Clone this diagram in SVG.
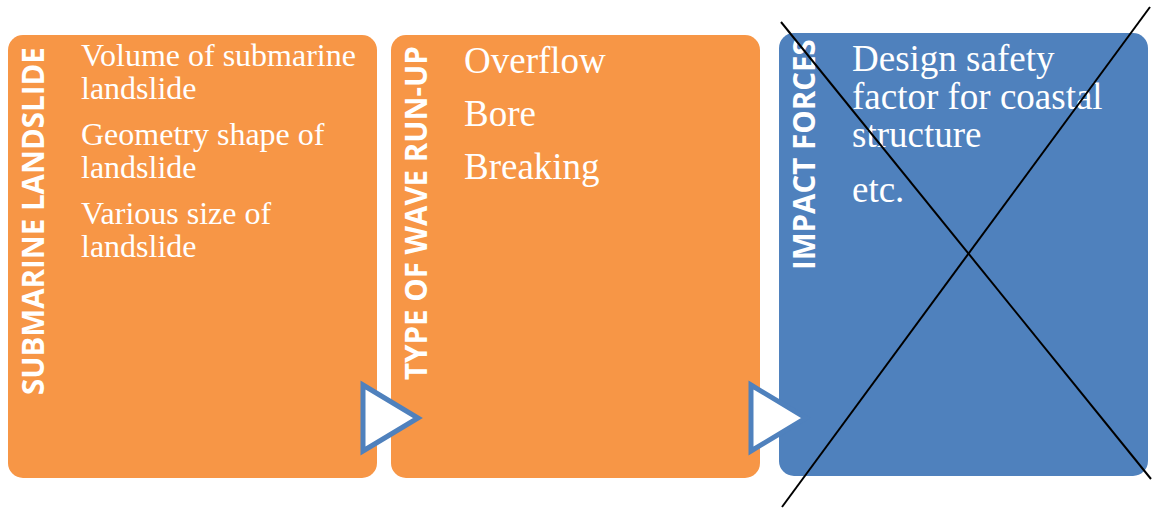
<svg xmlns="http://www.w3.org/2000/svg" width="1155" height="508" viewBox="0 0 1155 508">
  <style>
    .box-orange { fill: #F79646; }
    .box-blue { fill: #4F81BD; }
    .title { font-family: "Open Sans", "DejaVu Sans", sans-serif; font-weight: 700; font-size: 29.5px; fill: #FFFFFF; }
    .body { font-family: "Liberation Serif", "Times New Roman", serif; fill: #FFFFFF; }
    .s32 { font-size: 32px; }
    .s37 { font-size: 37px; }
    .chevron { fill: #FFFFFF; stroke: #4F81BD; stroke-width: 5; stroke-linejoin: miter; }
    .cross { stroke: #000000; stroke-width: 2; fill: none; }
  </style>

  <rect width="1155" height="508" fill="#FFFFFF"/>

  <g id="node-submarine-landslide">
    <rect class="box-orange" x="8" y="35" width="369" height="443" rx="15" ry="15"/>
    <text class="title" transform="translate(44,395) rotate(-90)">SUBMARINE LANDSLIDE</text>
    <text class="body s32" x="81" y="66">Volume of submarine</text>
    <text class="body s32" x="81" y="99">landslide</text>
    <text class="body s32" x="81" y="145">Geometry shape of</text>
    <text class="body s32" x="81" y="178">landslide</text>
    <text class="body s32" x="81" y="224">Various size of</text>
    <text class="body s32" x="81" y="257">landslide</text>
  </g>

  <g id="node-wave-run-up">
    <rect class="box-orange" x="391" y="35" width="369" height="443" rx="15" ry="15"/>
    <text class="title" transform="translate(427,380) rotate(-90)">TYPE OF WAVE RUN-UP</text>
    <text class="body s37" x="464" y="73">Overflow</text>
    <text class="body s37" x="464" y="126">Bore</text>
    <text class="body s37" x="464" y="179">Breaking</text>
  </g>

  <g id="node-impact-forces">
    <rect class="box-blue" x="779" y="33" width="369" height="443" rx="15" ry="15"/>
    <text class="title" transform="translate(815,270) rotate(-90)">IMPACT FORCES</text>
    <text class="body s37" x="852" y="71">Design safety</text>
    <text class="body s37" x="852" y="109">factor for coastal</text>
    <text class="body s37" x="852" y="147">structure</text>
    <text class="body s37" x="852" y="202">etc.</text>
  </g>

  <g id="connectors">
    <polygon class="chevron" points="363,385 418,418 363,451"/>
    <polygon class="chevron" points="751,385 806,418 751,451"/>
  </g>

  <g id="cross-out">
    <line class="cross" x1="781" y1="22" x2="1151" y2="479"/>
    <line class="cross" x1="1150" y1="7" x2="782" y2="507"/>
  </g>
</svg>
